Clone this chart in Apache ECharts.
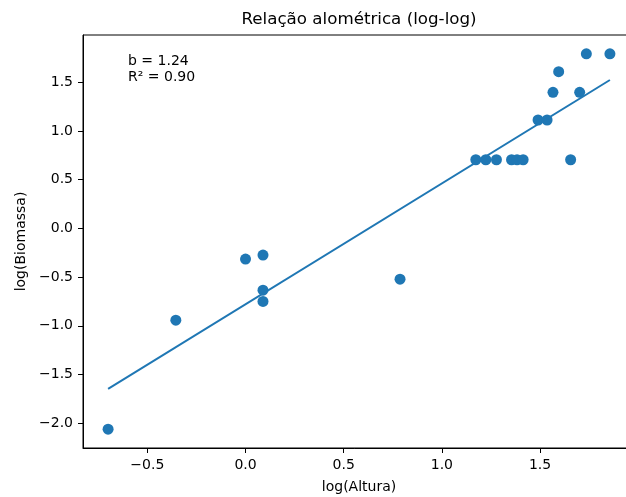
<!DOCTYPE html>
<html>
<head>
<meta charset="utf-8">
<script src="https://cdn.jsdelivr.net/npm/echarts@6/dist/echarts.min.js"></script>
<style>
  html, body { margin: 0; padding: 0; background: #fff; }
  #chart { width: 626px; height: 497px; }
</style>
</head>
<body>
<div id="chart"></div>
<script>
// log10 values
const logAltura = [-0.700, -0.355, 0.0, 0.089, 0.089, 0.089, 0.787,
  1.173, 1.224, 1.278, 1.355, 1.383, 1.414, 1.490, 1.536,
  1.566, 1.595, 1.656, 1.702, 1.736, 1.856];
const logBiomassa = [-2.062, -0.942, -0.315, -0.274, -0.634, -0.750, -0.521,
  0.705, 0.705, 0.705, 0.705, 0.705, 0.705, 1.113, 1.113,
  1.397, 1.609, 0.705, 1.397, 1.793, 1.793];
const xTicks = [-0.5, 0.0, 0.5, 1.0, 1.5];
const yTicks = [-2.0, -1.5, -1.0, -0.5, 0.0, 0.5, 1.0, 1.5];
const statsText = "b = 1.24\nR² = 0.90";

const FONT = "DejaVu Sans";
const BLUE = "#1f77b4";

// least squares fit of the log-log points
const fitLine = (xs, ys) => {
  const n = xs.length;
  const mx = xs.reduce((a, v) => a + v, 0) / n;
  const my = ys.reduce((a, v) => a + v, 0) / n;
  let sxy = 0, sxx = 0;
  xs.forEach((x, i) => { sxy += (x - mx) * (ys[i] - my); sxx += (x - mx) * (x - mx); });
  const b = sxy / sxx;
  const a = my - b * mx;
  const x0 = Math.min(...xs), x1 = Math.max(...xs);
  return [[x0, a + b * x0], [x1, a + b * x1]];
};

// matplotlib-like 5% margins
const padRange = (vals) => {
  const lo = Math.min(...vals), hi = Math.max(...vals);
  const m = (hi - lo) * 0.05;
  return [lo - m, hi + m];
};

const fmt = (v) => v.toFixed(1).replace("-", "\u2212");

const [xMin, xMax] = padRange(logAltura);
const [yMin, yMax] = padRange(logBiomassa);

const chart = echarts.init(document.getElementById("chart"));

const axisCommon = {
  type: "value",
  axisLine: { show: true, onZero: false, lineStyle: { color: "#000", width: 1 } },
  axisTick: { show: true, length: 5, lineStyle: { color: "#000", width: 1 } },
  splitLine: { show: false },
  nameLocation: "middle",
  nameTextStyle: { fontFamily: FONT, fontSize: 14, color: "#000" },
};

chart.setOption({
  animation: false,
  backgroundColor: "#fff",
  grid: {
    left: 83, top: 35, width: 552, height: 413,
    outerBoundsMode: "none",
    show: true, borderColor: "#000", borderWidth: 1,
  },
  xAxis: Object.assign({}, axisCommon, {
    min: xMin, max: xMax,
    name: "log(Altura)", nameGap: 32,
    axisTick: Object.assign({}, axisCommon.axisTick, { customValues: xTicks }),
    axisLabel: {
      customValues: xTicks, formatter: fmt, margin: 10,
      fontFamily: FONT, fontSize: 14, color: "#000",
    },
  }),
  yAxis: Object.assign({}, axisCommon, {
    min: yMin, max: yMax,
    name: "log(Biomassa)", nameGap: 55,
    axisTick: Object.assign({}, axisCommon.axisTick, { customValues: yTicks }),
    axisLabel: {
      customValues: yTicks, formatter: fmt, margin: 10,
      fontFamily: FONT, fontSize: 14, color: "#000",
    },
  }),
  graphic: [
    {
      type: "text", x: 359, y: 11,
      style: {
        text: "Relação alométrica (log-log)", textAlign: "center",
        fontFamily: FONT, fontSize: 16.7, fill: "#000",
      },
    },
    {
      type: "text", x: 128, y: 53,
      style: {
        text: statsText, fontFamily: FONT, fontSize: 14, lineHeight: 16, fill: "#000",
      },
    },
  ],
  series: [
    {
      type: "scatter",
      data: logAltura.map((x, i) => [x, logBiomassa[i]]),
      symbolSize: 11,
      itemStyle: { color: BLUE, opacity: 1 },
      z: 2,
    },
    {
      type: "line",
      data: fitLine(logAltura, logBiomassa),
      showSymbol: false,
      lineStyle: { color: BLUE, width: 2 },
      z: 3,
    },
  ],
});
</script>
</body>
</html>
